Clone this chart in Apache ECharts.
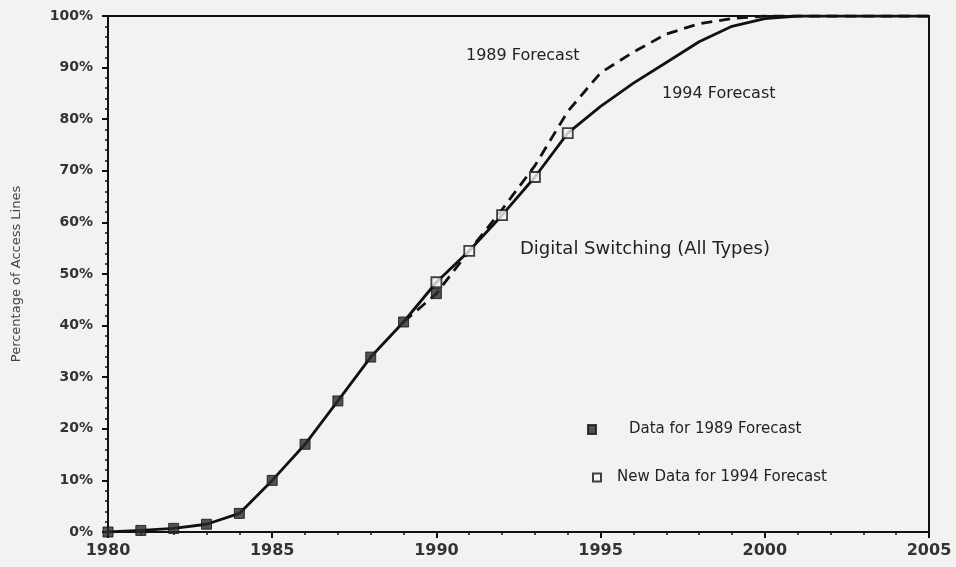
<!DOCTYPE html>
<html>
<head>
<meta charset="utf-8">
<script src="https://cdn.jsdelivr.net/npm/echarts@6/dist/echarts.min.js"></script>
<style>
  html, body { margin: 0; padding: 0; background: #f2f2f2; }
  #chart { width: 956px; height: 567px; }
</style>
</head>
<body>
<div id="chart"></div>
<script>
// data (percent of access lines)
const filledYears = [1980, 1981, 1982, 1983, 1984, 1985, 1986, 1987, 1988, 1989, 1990]
const filledValues = [0, 0.3, 0.7, 1.5, 3.6, 10, 17, 25.4, 33.9, 40.7, 46.2]

const openYears = [1990, 1991, 1992, 1993, 1994]
const openValues = [48.4, 54.5, 61.4, 68.8, 77.3]

const forecast89Years = [1989, 1990, 1991, 1992, 1993, 1994, 1995, 1996, 1997, 1998, 1999, 2000, 2001, 2002, 2003, 2004, 2005]
const forecast89Values = [40.7, 46.2, 54.5, 62.5, 71, 81.5, 89, 93, 96.5, 98.5, 99.5, 100, 100, 100, 100, 100, 100]

const forecast94Years = [1995, 1996, 1997, 1998, 1999, 2000, 2001, 2002, 2003, 2004, 2005]
const forecast94Values = [82.5, 87, 91, 95, 98, 99.5, 100, 100, 100, 100, 100]

const pairs = (xs, ys) => xs.map((x, i) => [x, ys[i]])

// solid line: history up to 1989, then new data, then 1994 forecast
const solidLine = pairs(filledYears.slice(0, 10), filledValues.slice(0, 10))
  .concat(pairs(openYears, openValues))
  .concat(pairs(forecast94Years, forecast94Values))

const chart = echarts.init(document.getElementById('chart'))
const font = 'DejaVu Sans, Arial, sans-serif'

const option = {
  backgroundColor: '#f2f2f2',
  animation: false,
  textStyle: { fontFamily: font },
  grid: {
    left: 108, right: 27, top: 16, bottom: 35,
    show: true,
    borderColor: '#111',
    borderWidth: 2,
    backgroundColor: 'transparent'
  },
  legend: [
    {
      left: 582,
      top: 417,
      itemWidth: 8,
      itemHeight: 9,
      textStyle: { fontSize: 15, color: '#222', fontFamily: font, padding: [0, 0, 0, 28] },
      data: [{ name: 'Data for 1989 Forecast', icon: 'rect' }]
    },
    {
      left: 587,
      top: 465,
      itemWidth: 8,
      itemHeight: 8,
      textStyle: { fontSize: 15, color: '#222', fontFamily: font, padding: [0, 0, 0, 11] },
      data: [{ name: 'New Data for 1994 Forecast', icon: 'rect' }]
    }
  ],
  xAxis: {
    type: 'value',
    min: 1980,
    max: 2005,
    interval: 5,
    axisLine: { lineStyle: { color: '#111', width: 2 } },
    axisTick: { length: 6, lineStyle: { color: '#111', width: 2 } },
    minorTick: { show: true, splitNumber: 5, length: 3, lineStyle: { color: '#111', width: 1.5 } },
    splitLine: { show: false },
    axisLabel: {
      fontSize: 16, fontWeight: 'bold', color: '#333', margin: 11,
      fontFamily: font,
      formatter: v => String(v)
    }
  },
  yAxis: {
    type: 'value',
    min: 0,
    max: 100,
    interval: 10,
    name: 'Percentage of Access Lines',
    nameLocation: 'middle',
    nameGap: 85,
    nameTextStyle: { fontSize: 13, color: '#444', fontFamily: font },
    axisLine: { show: true, lineStyle: { color: '#111', width: 2 } },
    axisTick: { show: true, length: 6, lineStyle: { color: '#111', width: 2 } },
    minorTick: { show: true, splitNumber: 5, length: 3, lineStyle: { color: '#111', width: 1.5 } },
    splitLine: { show: false },
    axisLabel: {
      fontSize: 14, fontWeight: 'bold', color: '#333', margin: 15,
      fontFamily: font,
      formatter: '{value}%'
    }
  },
  series: [
    {
      name: '1994 Forecast',
      type: 'line',
      data: solidLine,
      symbol: 'none',
      lineStyle: { color: '#111', width: 2.8 },
      z: 2
    },
    {
      name: '1989 Forecast',
      type: 'line',
      data: pairs(forecast89Years, forecast89Values),
      symbol: 'none',
      lineStyle: { color: '#111', width: 2.8, type: [11, 7] },
      z: 2
    },
    {
      name: 'Data for 1989 Forecast',
      type: 'scatter',
      data: pairs(filledYears, filledValues),
      symbol: 'rect',
      symbolSize: 10,
      itemStyle: { color: '#2a2a2a', borderColor: '#111', borderWidth: 1 },
      z: 3
    },
    {
      name: 'New Data for 1994 Forecast',
      type: 'scatter',
      data: pairs(openYears, openValues),
      symbol: 'rect',
      symbolSize: 10,
      itemStyle: { color: '#f4f4f4', borderColor: '#111', borderWidth: 1.8 },
      z: 3
    }
  ],
  graphic: [
    { type: 'text', left: 466, top: 48, style: { text: '1989 Forecast', fontSize: 16, fill: '#222', fontFamily: font } },
    { type: 'text', left: 662, top: 86, style: { text: '1994 Forecast', fontSize: 16, fill: '#222', fontFamily: font } },
    { type: 'text', left: 520, top: 240, style: { text: 'Digital Switching (All Types)', fontSize: 18, fill: '#222', fontFamily: font } }
  ]
}

chart.setOption(option)
</script>
</body>
</html>
